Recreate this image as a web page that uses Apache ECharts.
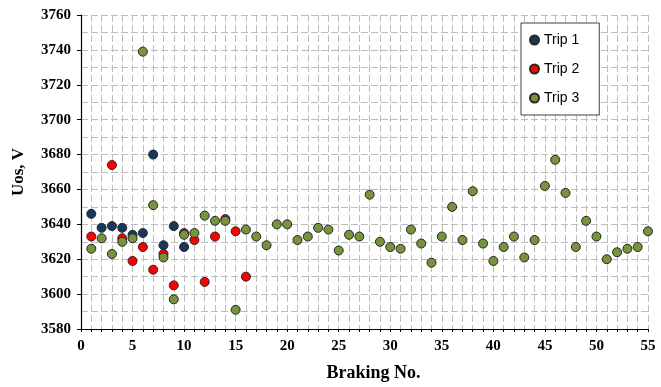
<!DOCTYPE html>
<html>
<head>
<meta charset="utf-8">
<script src="https://cdn.jsdelivr.net/npm/echarts@6/dist/echarts.min.js"></script>
<style>
  html, body { margin: 0; padding: 0; background: #fff; }
  #chart { width: 661px; height: 387px; }
</style>
</head>
<body>
<div id="chart"></div>
<script>
// Braking number per trip (x) and measured voltage Uos (y)
const trip1X = [1, 2, 3, 4, 5, 6, 7, 8, 9, 10];
const trip1Y = [3646, 3638, 3639, 3638, 3634, 3635, 3680, 3628, 3639, 3627];

const trip2X = [1, 3, 4, 5, 6, 7, 8, 9, 10, 11, 12, 13, 14, 15, 16];
const trip2Y = [3633, 3674, 3632, 3619, 3627, 3614, 3623, 3605, 3635, 3631, 3607, 3633, 3643, 3636, 3610];

const trip3X = [1, 2, 3, 4, 5, 6, 7, 8, 9, 10, 11, 12, 13, 14, 15, 16, 17, 18, 19, 20,
  21, 22, 23, 24, 25, 26, 27, 28, 29, 30, 31, 32, 33, 34, 35, 36, 37, 38, 39, 40,
  41, 42, 43, 44, 45, 46, 47, 48, 49, 50, 51, 52, 53, 54, 55];
const trip3Y = [3626, 3632, 3623, 3630, 3632, 3739, 3651, 3621, 3597, 3634,
  3635, 3645, 3642, 3642, 3591, 3637, 3633, 3628, 3640, 3640,
  3631, 3633, 3638, 3637, 3625, 3634, 3633, 3657, 3630, 3627,
  3626, 3637, 3629, 3618, 3633, 3650, 3631, 3659, 3629, 3619,
  3627, 3633, 3621, 3631, 3662, 3677, 3658, 3627, 3642, 3633,
  3620, 3624, 3626, 3627, 3636];

const seriesNames = ['Trip 1', 'Trip 2', 'Trip 3'];
const seriesColors = ['#17375e', '#ff0000', '#77933c'];

const pairs = (xs, ys) => xs.map((x, i) => [x, ys[i]]);
const seriesData = [pairs(trip1X, trip1Y), pairs(trip2X, trip2Y), pairs(trip3X, trip3Y)];

const serif = '"Liberation Serif", "Times New Roman", serif';
const gridDash = { color: '#bdbdbd', width: 1, type: [7, 3] };

const chart = echarts.init(document.getElementById('chart'), null, { renderer: 'canvas' });

chart.setOption({
  animation: false,
  backgroundColor: '#ffffff',
  grid: { left: 81, right: 13, top: 15, bottom: 53, containLabel: false },
  legend: {
    orient: 'vertical',
    left: 521,
    top: 23,
    width: 104,
    itemWidth: 9,
    itemHeight: 9,
    itemGap: 15,
    padding: [10, 20, 10, 8],
    backgroundColor: '#ffffff',
    borderColor: '#404040',
    borderWidth: 1,
    textStyle: { fontFamily: '"Liberation Sans", Arial, sans-serif', fontSize: 14, color: '#000' },
    data: seriesNames.map(n => ({ name: n, icon: 'circle' }))
  },
  xAxis: {
    type: 'value',
    min: 0,
    max: 55,
    interval: 1,
    name: 'Braking No.',
    nameLocation: 'middle',
    nameGap: 35,
    nameTextStyle: { fontFamily: serif, fontWeight: 'bold', fontSize: 18, color: '#000', padding: [0, 0, 0, 18] },
    axisLine: { lineStyle: { color: '#000', width: 1.2 } },
    axisTick: { show: true, length: 3, lineStyle: { color: '#000' } },
    axisLabel: {
      margin: 10,
      fontFamily: serif, fontWeight: 'bold', fontSize: 15, color: '#000',
      formatter: v => (v % 5 === 0 ? String(v) : '')
    },
    splitLine: { show: true, lineStyle: gridDash }
  },
  yAxis: {
    type: 'value',
    min: 3580,
    max: 3760,
    interval: 20,
    name: 'Uos, V',
    nameLocation: 'middle',
    nameGap: 54,
    nameRotate: 90,
    nameTextStyle: { fontFamily: serif, fontWeight: 'bold', fontSize: 17, color: '#000', padding: [0, 0, 0, 0] },
    axisLine: { show: true, lineStyle: { color: '#000', width: 1.2 } },
    axisTick: { show: true, length: 4, lineStyle: { color: '#000' } },
    axisLabel: {
      margin: 10, fontFamily: serif, fontWeight: 'bold', fontSize: 15, color: '#000',
      formatter: v => String(v)
    },
    splitLine: { show: true, lineStyle: gridDash },
    minorTick: { show: false, splitNumber: 2 },
    minorSplitLine: { show: true, lineStyle: gridDash }
  },
  series: seriesNames.map((name, i) => ({
    name,
    type: 'scatter',
    data: seriesData[i],
    symbol: 'circle',
    symbolSize: 9,
    z: 2 + i,
    itemStyle: { color: seriesColors[i], borderColor: '#262626', borderWidth: 1, opacity: 1 }
  }))
});
</script>
</body>
</html>
